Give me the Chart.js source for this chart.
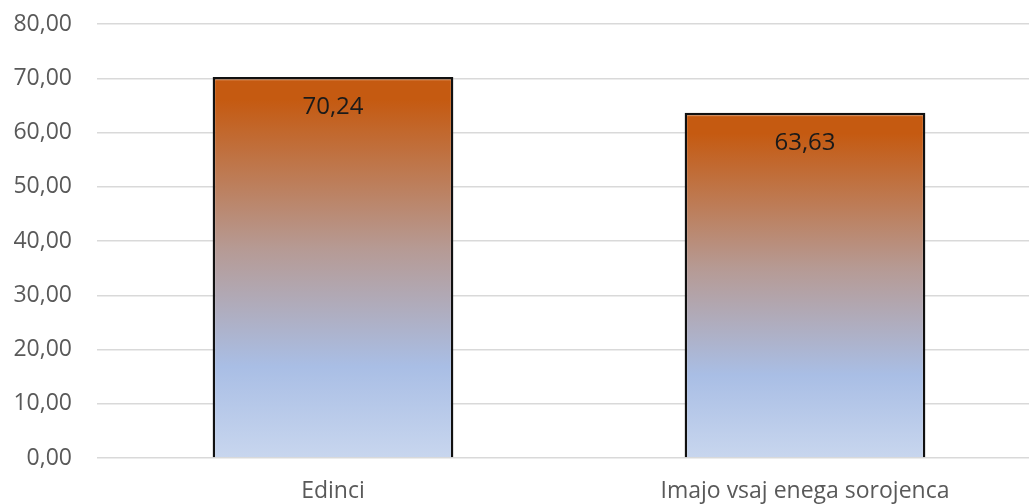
<!DOCTYPE html>
<html>
<head>
<meta charset="utf-8">
<script src="https://cdn.jsdelivr.net/npm/chart.js@4"></script>
<style>
  html, body { margin: 0; padding: 0; background: #fff; overflow: hidden; }
  #wrap { width: 1041px; height: 504px; }
</style>
</head>
<body>
<div id="wrap"><canvas id="chartBars"></canvas></div>
<script>
// ── data ─────────────────────────────────────────────
const categories = ["Edinci", "Imajo vsaj enega sorojenca"];
const values     = [70.24, 63.63];
const yTicks     = { min: 0, max: 80, step: 10 };

const fmt = v => v.toFixed(2).replace(".", ",");
const font = "'Open Sans', 'Noto Sans', sans-serif";

// orange-to-blue fill, laid out per bar from its top to the baseline
function barFill(ctx) {
  const chart = ctx.chart;
  const area = chart.chartArea;
  if (!area || ctx.type !== "data") return "#c55a11";
  const y = chart.scales.y;
  const top = y.getPixelForValue(ctx.parsed.y);
  const base = y.getPixelForValue(0);
  const g = chart.ctx.createLinearGradient(0, top, 0, base);
  g.addColorStop(0, "#e9b08a");
  g.addColorStop(0.012, "#c55a11");
  g.addColorStop(0.06, "#c55a11");
  g.addColorStop(0.45, "#b69a94");
  g.addColorStop(0.76, "#a9bee5");
  g.addColorStop(1, "#c8d6ee");
  return g;
}

// value text inside the top of each bar
const valueLabels = {
  id: "valueLabels",
  afterDatasetsDraw(chart) {
    const c = chart.ctx;
    const meta = chart.getDatasetMeta(0);
    c.save();
    c.font = "24px " + font;
    c.fillStyle = "#1a1a1a";
    c.textAlign = "center";
    c.textBaseline = "middle";
    meta.data.forEach((bar, i) => {
      c.fillText(fmt(values[i]), bar.x, bar.y + 30);
    });
    c.restore();
  },
};

new Chart(document.getElementById("chartBars"), {
  type: "bar",
  data: {
    labels: categories,
    datasets: [{
      data: values,
      backgroundColor: barFill,
      borderColor: "#111111",
      borderWidth: 2.5,
      borderSkipped: "bottom",
      barPercentage: 0.51,
      categoryPercentage: 1,
    }],
  },
  plugins: [valueLabels],
  options: {
    responsive: true,
    maintainAspectRatio: false,
    animation: false,
    layout: { padding: { top: 24, right: 0, left: 0, bottom: 0 } },
    plugins: { legend: { display: false }, tooltip: { enabled: false } },
    scales: {
      x: {
        grid: { display: false },
        border: { display: false },
        ticks: { color: "#595959", font: { size: 23, family: font }, padding: 12 },
        afterFit: s => { s.height = 46; },
      },
      y: {
        min: yTicks.min,
        max: yTicks.max,
        grid: { color: "#d9d9d9", lineWidth: 1.5, drawTicks: false },
        border: { display: false },
        ticks: {
          stepSize: yTicks.step,
          color: "#595959",
          font: { size: 23, family: font },
          padding: 25,
          callback: v => fmt(v),
        },
        afterFit: s => { s.width = 97; s.paddingTop = 0; s.paddingBottom = 0; },
      },
    },
  },
});
</script>
</body>
</html>
